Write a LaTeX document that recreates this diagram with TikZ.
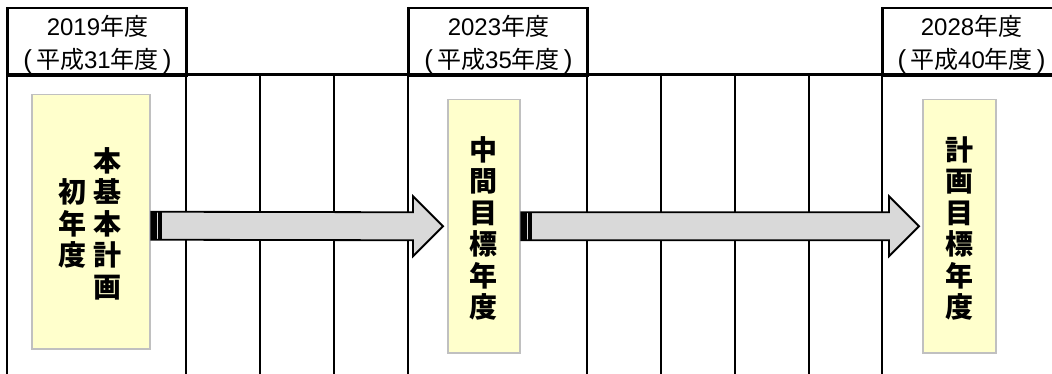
\documentclass[tikz,border=0pt]{standalone}
\usepackage{fontspec}
\setmainfont{Noto Sans CJK JP}
\newfontfamily\latf{Liberation Sans}
\usetikzlibrary{calc}
\definecolor{yfill}{HTML}{FFFFCC}
\definecolor{yedge}{HTML}{C0C0C0}
\definecolor{agray}{HTML}{D9D9D9}
\newcommand{\hdrlines}[2]{{\latf #1}年度\\{\latf\fontsize{26}{33}\selectfont (}\hspace{4pt}平成{\latf #2}年度\hspace{4pt}{\latf\fontsize{26}{33}\selectfont )}}
\begin{document}
\begin{tikzpicture}[x=1pt,y=-1pt,
  gridline/.style={line width=2pt},
  hdrbox/.style={draw, line width=2pt, minimum width=179pt, minimum height=68pt, anchor=north west, inner sep=0pt},
  hdrtext/.style={font=\fontsize{24}{33}\selectfont, align=center, inner sep=0pt},
  ybox/.style={draw=yedge, fill=yfill, line width=1.5pt, anchor=north west, inner sep=0pt},
  vtext/.style={font=\fontsize{28}{31.5}\selectfont\bfseries, align=center, inner sep=0pt},
  arr/.style={fill=agray, draw=black, line width=1.8pt, line join=miter},
  stripe/.style={fill=black, draw=none}]
\clip (0,0) rectangle (1052,374);
% header boxes
\node[hdrbox] (h1) at (7,7) {};
\node[hdrbox] (h2) at (408,7) {};
\node[hdrbox] (h3) at (882,7) {};
\node[hdrtext] (t1) at ($(h1.center)+(0,3)$) {\hdrlines{2019}{31}};
\node[hdrtext] (t2) at ($(h2.center)+(0,3)$) {\hdrlines{2023}{35}};
\node[hdrtext] (t3) at ($(h3.center)+(-1,3)$) {\hdrlines{2028}{40}};
% grid
\draw[line width=3pt] (7,75) -- (1052,75);
\foreach \x in {7,186,408,587,882} \draw[gridline] (\x,7) -- (\x,374);
\foreach \x in {260,334,661,735,809} \draw[gridline] (\x,75) -- (\x,374);
% yellow boxes
\node[ybox, minimum width=118pt, minimum height=254pt] (b1) at (31,94) {};
\node[ybox, minimum width=72pt, minimum height=253pt] (b2) at (447,99) {};
\node[ybox, minimum width=73pt, minimum height=253pt] (b3) at (922,99) {};
\node[vtext] (v1a) at (107,223.5) {本\\基\\本\\計\\画};
\node[vtext] (v1b) at (72,223.5) {初\\年\\度};
\node[vtext] (v2) at ($(b2.center)+(0,2)$) {中\\間\\目\\標\\年\\度};
\node[vtext] (v3) at ($(b3.center)+(0,2)$) {計\\画\\目\\標\\年\\度};
% arrows
\coordinate (a1s) at ($(b1.east)+(0.75,4)$);
\coordinate (a1t) at ($(b2.west)+(-4,0)$);
\coordinate (a2s) at ($(b2.east)+(0.75,0)$);
\coordinate (a2t) at ($(b3.west)+(-3,0)$);
\foreach \s/\t in {a1s/a1t,a2s/a2t}{
  \draw[arr] ($(\s)+(0,-14)$) -- ($(\t)+(-30,-14)$) -- ($(\t)+(-30,-30)$) -- (\t)
     -- ($(\t)+(-30,30)$) -- ($(\t)+(-30,14)$) -- ($(\s)+(0,14)$) -- cycle;
  \fill[stripe] ($(\s)+(0,-14.5)$) rectangle ($(\s)+(5.5,14.5)$);
  \fill[stripe] ($(\s)+(7,-14.5)$) rectangle ($(\s)+(11,14.5)$);
}
\end{tikzpicture}
\end{document}
